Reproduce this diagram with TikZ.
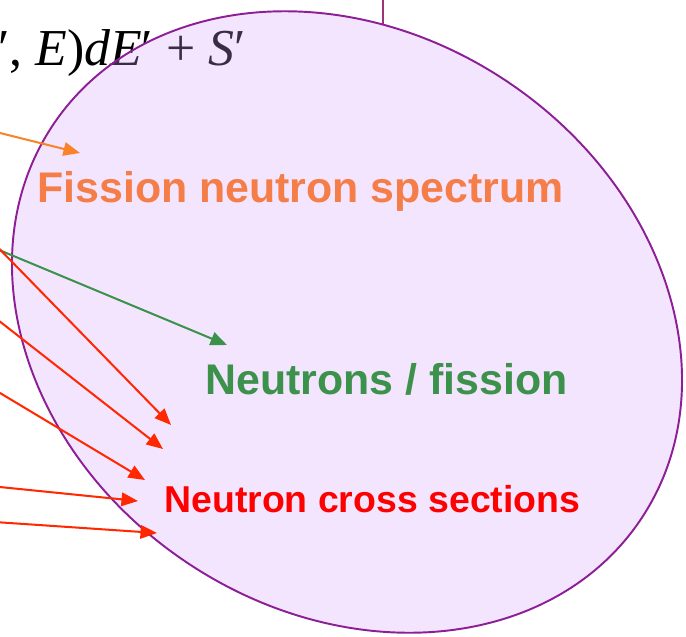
\documentclass[tikz,border=0pt]{standalone}
\usepackage{fontspec}
\setmainfont{Liberation Serif}
\setsansfont{Liberation Sans}
\usepackage{tikz}
\usetikzlibrary{arrows.meta}
\definecolor{spectrumorange}{RGB}{245,125,72}
\definecolor{arroworange}{RGB}{250,130,40}
\definecolor{nugreen}{RGB}{60,145,75}
\definecolor{xsecred}{RGB}{255,0,0}
\definecolor{arrowred}{RGB}{255,40,0}
\definecolor{bubbleline}{RGB}{140,30,150}
\definecolor{bubblefill}{RGB}{214,160,250}
\definecolor{stemline}{RGB}{160,50,120}
\tikzset{
    data label/.style={
        inner sep=0pt,anchor=base west,
        font=\sffamily\bfseries\fontsize{24.4}{28}\selectfont
    },
    data arrow/.style={
        line width=1.15pt
    },
    bubble/.style={
        line width=1.1pt,rotate around={-34:(ctr)}
    },
    >={Triangle[length=0.33cm,width=0.27cm]}
}

\begin{document}
\begin{tikzpicture}[x=0.02cm,y=-0.02cm]
\useasboundingbox (0,0) rectangle (686,636);
\clip (0,0) rectangle (686,636);
\node[inner sep=0pt,anchor=base east,font=\fontsize{29.5}{31}\selectfont] (balance) at (246,65) {\textit{E}′, \textit{E})\textit{dE}′ + \textit{S}′};
\coordinate (ctr) at (347,322);
\draw[stemline,line width=1.1pt] (383,0) -- (383,25);
\fill[bubble,bubblefill,fill opacity=0.28] (ctr) ellipse [x radius=7.08cm,y radius=5.78cm];
\draw[bubble,bubbleline] (ctr) ellipse [x radius=7.08cm,y radius=5.78cm];

\node[data label,spectrumorange] (spectrum) at (37,202) {Fission neutron spectrum};
\node[data label,nugreen] (nu) at (205,394) {Neutrons / fission};
\node[data label,xsecred,font=\sffamily\bfseries\fontsize{21.3}{25}\selectfont] (xsec) at (164,512) {Neutron cross sections};

\coordinate (spectrum_src) at (-20,128);
\coordinate (spectrum_tip) at (80,153);
\draw[data arrow,arroworange,->] (spectrum_src) -- (spectrum_tip);
\coordinate (nu_src) at (-20,242);
\coordinate (nu_tip) at (227,345);
\draw[data arrow,nugreen,->] (nu_src) -- (nu_tip);
\foreach \i/\ys/\xt/\yt in {0/229/171/425,1/306/163/449,2/381/145/480,3/485/138/501,4/521/157/533}{
    \coordinate (xsec_src_\i) at (-20,\ys);
    \coordinate (xsec_tip_\i) at (\xt,\yt);
    \draw[data arrow,arrowred,->] (xsec_src_\i) -- (xsec_tip_\i);
}
\end{tikzpicture}
\end{document}
